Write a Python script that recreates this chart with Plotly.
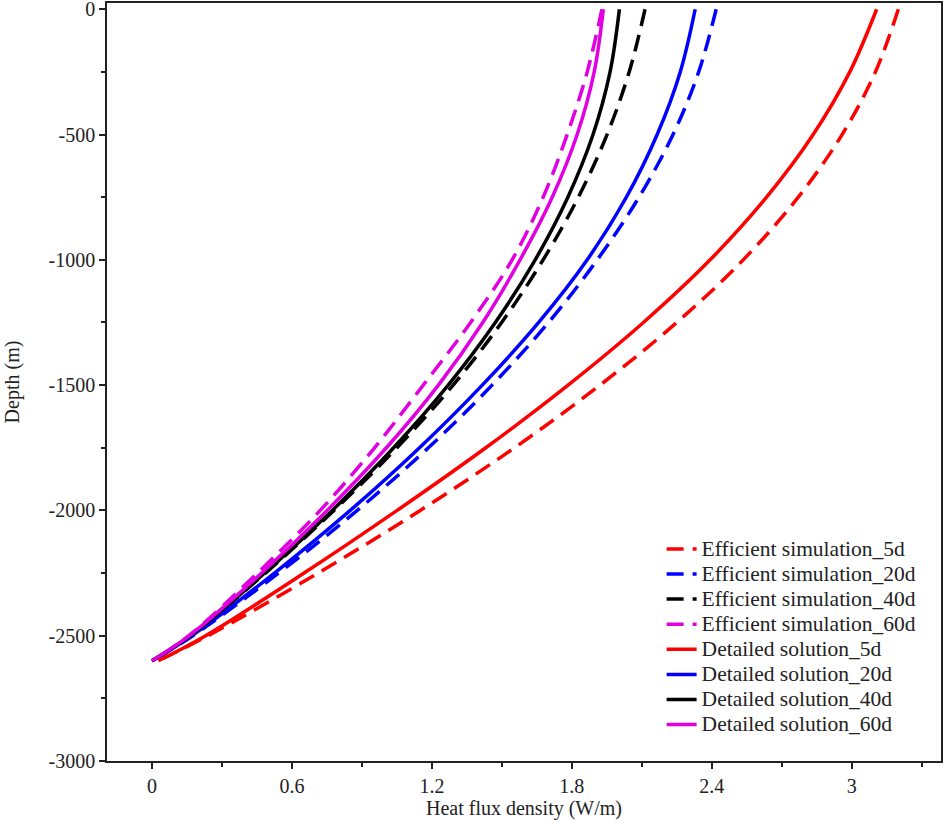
import plotly.graph_objects as go

depth = [0, -250, -500, -750, -1000, -1250, -1500, -1750, -2000, -2250, -2500, -2600]

eff_5d = [3.200, 3.102, 2.959, 2.771, 2.535, 2.250, 1.921, 1.554, 1.150, 0.712, 0.240, 0.027]
eff_20d = [2.419, 2.344, 2.234, 2.088, 1.909, 1.700, 1.458, 1.185, 0.880, 0.543, 0.175, 0.0]
eff_40d = [2.114, 2.046, 1.951, 1.828, 1.677, 1.499, 1.291, 1.050, 0.780, 0.486, 0.165, 0.0]
eff_60d = [1.929, 1.866, 1.780, 1.677, 1.544, 1.366, 1.163, 0.954, 0.721, 0.452, 0.158, 0.0]

det_5d = [3.107, 2.992, 2.835, 2.635, 2.393, 2.107, 1.784, 1.431, 1.051, 0.652, 0.230, 0.027]
det_20d = [2.329, 2.265, 2.166, 2.034, 1.866, 1.658, 1.416, 1.147, 0.850, 0.525, 0.171, 0.0]
det_40d = [2.004, 1.964, 1.891, 1.783, 1.643, 1.472, 1.270, 1.036, 0.773, 0.483, 0.165, 0.0]
det_60d = [1.935, 1.896, 1.823, 1.716, 1.578, 1.418, 1.228, 1.005, 0.751, 0.470, 0.160, 0.0]

x_ticks = [0, 0.6, 1.2, 1.8, 2.4, 3]
x_tick_labels = ["0", "0.6", "1.2", "1.8", "2.4", "3"]
y_ticks = [0, -500, -1000, -1500, -2000, -2500, -3000]
y_tick_labels = ["0", "-500", "-1000", "-1500", "-2000", "-2500", "-3000"]

series = [
    ("Efficient simulation_5d", eff_5d, "#ff0000", "17px,9px"),
    ("Efficient simulation_20d", eff_20d, "#0000ff", "17px,9px"),
    ("Efficient simulation_40d", eff_40d, "#000000", "17px,9px"),
    ("Efficient simulation_60d", eff_60d, "#e000e0", "17px,9px"),
    ("Detailed solution_5d", det_5d, "#ff0000", "solid"),
    ("Detailed solution_20d", det_20d, "#0000ff", "solid"),
    ("Detailed solution_40d", det_40d, "#000000", "solid"),
    ("Detailed solution_60d", det_60d, "#e000e0", "solid"),
]

fig = go.Figure()
for name, xs, col, dash in series:
    fig.add_trace(go.Scatter(
        x=xs, y=depth, mode="lines",
        name='<span style="font-size:21.5px">' + name + '</span>',
        line=dict(color=col, width=3.5, dash=dash, shape="spline", smoothing=1.0),
    ))

font = "Liberation Serif, Times New Roman, serif"
fig.update_layout(
    width=944, height=826,
    margin=dict(l=107, r=3, t=3, b=65),
    plot_bgcolor="white", paper_bgcolor="white",
    font=dict(family=font, size=20, color="#222"),
    showlegend=True,
    legend=dict(x=0.665, y=0.303, xanchor="left", yanchor="top",
                bgcolor="rgba(0,0,0,0)", font=dict(family=font, size=17, color="#222"),
                tracegroupgap=0),
)
fig.update_xaxes(
    range=[-0.193, 3.383], tickvals=x_ticks, ticktext=x_tick_labels,
    ticks="outside", ticklen=6, tickwidth=1.5, tickcolor="#222",
    minor=dict(ticks="outside", ticklen=4, tickwidth=1.5, dtick=0.3, tick0=0, tickcolor="#222"),
    showline=True, linewidth=1.5, linecolor="#222", mirror=True,
    showgrid=False, zeroline=False, automargin=False, ticklabeloverflow="allow",
    title=dict(text="Heat flux density (W/m)", standoff=0, font=dict(size=20)),
)
fig.update_yaxes(
    range=[-3000, 25], tickvals=y_ticks, ticktext=y_tick_labels,
    ticks="outside", ticklen=6, tickwidth=1.5, tickcolor="#222",
    minor=dict(ticks="outside", ticklen=4, tickwidth=1.5, dtick=250, tick0=0, tickcolor="#222"),
    showline=True, linewidth=1.5, linecolor="#222", mirror=True,
    showgrid=False, zeroline=False, automargin=False, ticklabeloverflow="allow",
    title=dict(text="Depth (m)", standoff=24, font=dict(size=20)),
)
fig.write_html("out.html", config={"displayModeBar": False},
               post_script="document.body.style.margin='0';document.body.style.overflow='hidden';")
